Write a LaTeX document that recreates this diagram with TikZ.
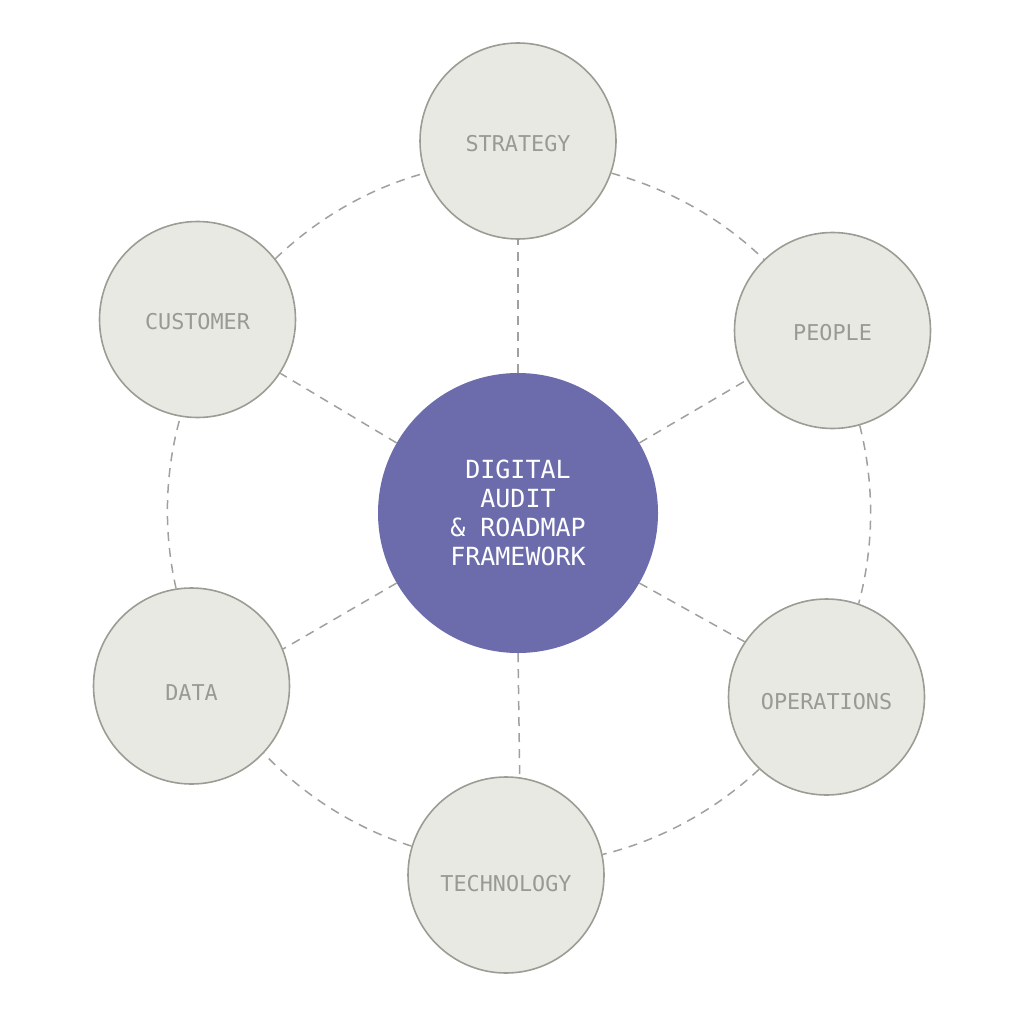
\documentclass[tikz,border=0pt]{standalone}
\usepackage{fontspec}
\setmonofont{DejaVu Sans Mono}
\usepackage{xcolor}
\usetikzlibrary{arrows}
\definecolor{hubfill}{HTML}{6C6CAD}
\definecolor{pillarfill}{HTML}{E9E9E4}
\definecolor{ringgray}{HTML}{9C9C94}
\definecolor{labelgray}{HTML}{9A9A95}
\definecolor{linkgray}{HTML}{A0A09C}

\begin{document}
\begin{tikzpicture}[line cap=round,line join=round,x=1.0pt,y=-1.0pt,
		pillar/.style 2 args={circle,draw=ringgray,fill=pillarfill,line width=1.6pt,minimum size=196pt,inner sep=0pt,
			label={[text=labelgray,font=\ttfamily\fontsize{21.8}{25}\selectfont,yshift=#2]center:#1}},
		hub/.style={circle,fill=hubfill,minimum size=280pt,inner sep=0pt,text=white,align=center,font=\ttfamily\fontsize{25}{29.2}\selectfont},
		link/.style={draw=linkgray,line width=1.5pt,line cap=butt,dash pattern=on 9pt off 7pt}]
		\useasboundingbox (0,0) rectangle (1024,1024);
		\node[hub] (frame) at (518,513) {DIGITAL\\AUDIT\\\& ROADMAP\\FRAMEWORK};
		\node[pillar={STRATEGY}{-2.5pt}] (strategy) at (518,141) {};
		\node[pillar={PEOPLE}{-2pt}] (people) at (832.5,330.5) {};
		\node[pillar={OPERATIONS}{-5pt}] (operations) at (826.5,697) {};
		\node[pillar={TECHNOLOGY}{-8.5pt}] (technology) at (506,875) {};
		\node[pillar={DATA}{-7pt}] (data) at (191.5,686) {};
		\node[pillar={CUSTOMER}{-2.5pt}] (customer) at (197.5,319.5) {};
		% spokes
		\foreach \a/\p/\b in {90/strategy/-90,30/people/210,-30/operations/146.4,-90/technology/82.7,210/data/22.9,150/customer/-33.8}
			\draw [link] (frame.\a) -- (\p.\b);
		% outer ring
		\foreach \p/\sa/\o/\i/\q/\ea in {strategy/-19.2/-15.4/135.8/people/134.9,
				people/-74.9/-75.8/75.0/operations/71.7,
				operations/-133.7/-137.0/13.9/technology/12.7,
				technology/163.4/162.2/-46.4/data/-43.1,
				data/99.3/102.7/-105.7/customer/-100.1,
				customer/38.1/43.7/195.4/strategy/199.2}
			\draw [link] (\p.\sa) to[out=\o,in=\i,looseness=0.865] (\q.\ea);
	\end{tikzpicture}
\end{document}
